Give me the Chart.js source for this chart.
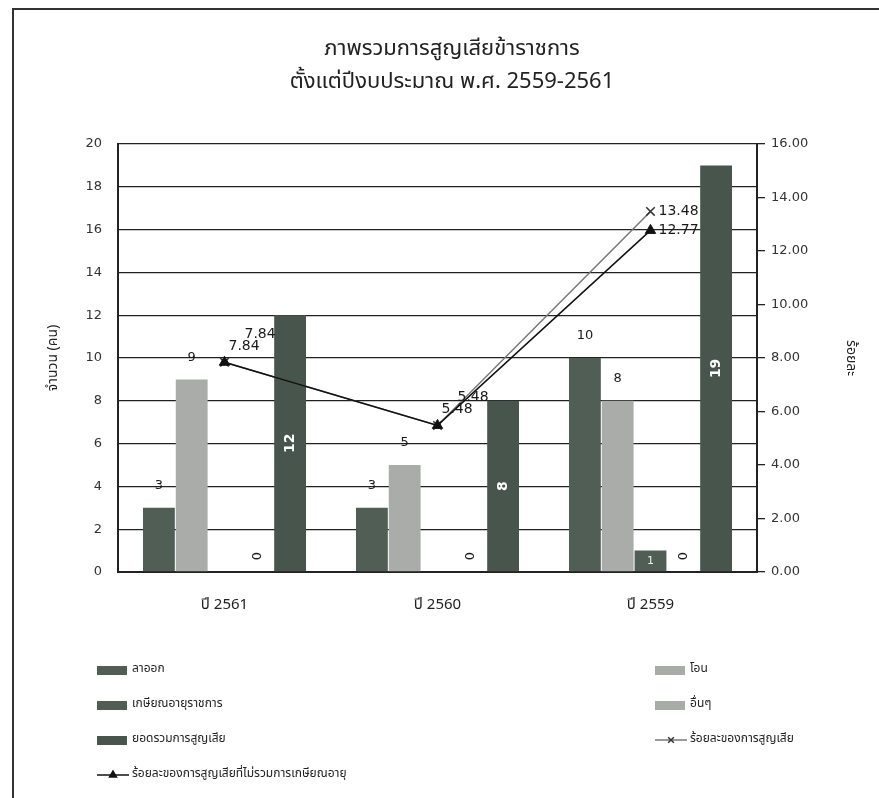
<!DOCTYPE html>
<html lang="th">
<head>
  <meta charset="UTF-8" />
  <title>ภาพรวมการสูญเสียข้าราชการ</title>
  <script src="https://cdn.jsdelivr.net/npm/chart.js"></script>
  <style>
    html, body { margin: 0; padding: 0; background: #fff; }
    #wrap { position: relative; width: 879px; height: 798px; overflow: hidden; }
    #frame {
      position: absolute; left: 12px; top: 8px; width: 900px; height: 900px;
      border-left: 2px solid #333; border-top: 2px solid #333;
    }
    #lossChart { position: absolute; left: 0; top: 0; }
  </style>
</head>
<body>
  <div id="wrap">
    <div id="frame"></div>
    <canvas id="lossChart" width="879" height="798"></canvas>
  </div>

  <script>
    // ข้อมูลการสูญเสียข้าราชการ
    const years = ["ปี 2561", "ปี 2560", "ปี 2559"];
    const resigned = [3, 3, 10];
    const transferred = [9, 5, 8];
    const retired = [0, 0, 1];
    const others = [0, 0, 0];
    const totalLoss = [12, 8, 19];
    const lossPct = [7.84, 5.48, 13.48];
    const lossPctNoRetire = [7.84, 5.48, 12.77];

    const countAxis = { min: 0, max: 20, step: 2 };
    const pctAxis = { min: 0, max: 16, step: 2 };

    const THAI = '"Noto Sans Thai", "Noto Sans", "DejaVu Sans", sans-serif';
    const NUM = '"DejaVu Sans", sans-serif';
    const DARK = "#515e56";
    const DARKER = "#48554d";
    const LIGHT = "#a9aca9";

    // ป้ายค่าบนแท่งและเส้น
    const valueLabels = {
      id: "valueLabels",
      afterDatasetsDraw(chart) {
        const ctx = chart.ctx;
        chart.data.datasets.forEach((ds, i) => {
          const meta = chart.getDatasetMeta(i);
          const last = ds.data.length - 1;
          meta.data.forEach((el, j) => {
            const v = ds.data[j];
            ctx.save();
            ctx.fillStyle = "#1a1a1a";
            ctx.textAlign = "center";
            ctx.textBaseline = "middle";
            if (ds.labelMode === "top") {
              ctx.font = "13px " + NUM;
              ctx.fillText(String(v), el.x, el.y - 22);
            } else if (ds.labelMode === "inside") {
              if (v > 0) {
                ctx.font = "11px " + NUM;
                ctx.fillStyle = "#eee";
                ctx.fillText(String(v), el.x, (el.y + el.base) / 2);
              }
            } else if (ds.labelMode === "zero") {
              ctx.translate(el.x, el.base - 16);
              ctx.rotate(-Math.PI / 2);
              ctx.font = "13px " + NUM;
              ctx.fillText(String(v), 0, 0);
            } else if (ds.labelMode === "mid") {
              ctx.translate(el.x, (el.y + el.base) / 2);
              ctx.rotate(-Math.PI / 2);
              ctx.font = "bold 14px " + NUM;
              ctx.fillStyle = "#fff";
              ctx.fillText(String(v), 0, 0);
            } else if (ds.labelMode === "line") {
              ctx.font = "14px " + NUM;
              ctx.textAlign = "left";
              const txt = v.toFixed(2);
              if (j === last) {
                ctx.fillText(txt, el.x + 8, el.y);
              } else {
                ctx.fillText(txt, el.x + ds.labelDx, el.y + ds.labelDy);
              }
            }
            ctx.restore();
          });
        });
      }
    };

    // คำอธิบายสัญลักษณ์แบบสองคอลัมน์
    const gridLegend = {
      id: "gridLegend",
      afterDraw(chart) {
        const ctx = chart.ctx;
        const cols = [97, 655];
        const rowTop = 670, rowGap = 35;
        chart.data.datasets.forEach((ds, i) => {
          const x = cols[i % 2];
          const y = rowTop + Math.floor(i / 2) * rowGap;
          ctx.save();
          if (ds.type === "line") {
            ctx.strokeStyle = ds.borderColor;
            ctx.lineWidth = 1.5;
            ctx.beginPath();
            ctx.moveTo(x, y);
            ctx.lineTo(x + 32, y);
            ctx.stroke();
            ctx.fillStyle = ds.pointBackgroundColor;
            ctx.strokeStyle = ds.pointBorderColor;
            Chart.helpers.drawPoint(ctx, {
              pointStyle: ds.pointStyle, radius: 4, borderWidth: 1.5, rotation: 0
            }, x + 16, y);
          } else {
            ctx.fillStyle = ds.backgroundColor;
            ctx.fillRect(x, y - 4, 30, 9);
          }
          ctx.fillStyle = "#222";
          ctx.font = "12px " + THAI;
          ctx.textBaseline = "middle";
          ctx.fillText(ds.label, x + 35, y);
          ctx.restore();
        });
      }
    };

    const ctx = document.getElementById("lossChart").getContext("2d");
    new Chart(ctx, {
      data: {
        labels: years,
        datasets: [
          { type: "bar", label: "ลาออก", data: resigned, backgroundColor: DARK, labelMode: "top", yAxisID: "y", order: 2 },
          { type: "bar", label: "โอน", data: transferred, backgroundColor: LIGHT, labelMode: "top", yAxisID: "y", order: 2 },
          { type: "bar", label: "เกษียณอายุราชการ", data: retired, backgroundColor: DARK, labelMode: "inside", yAxisID: "y", order: 2 },
          { type: "bar", label: "อื่นๆ", data: others, backgroundColor: LIGHT, labelMode: "zero", yAxisID: "y", order: 2 },
          { type: "bar", label: "ยอดรวมการสูญเสีย", data: totalLoss, backgroundColor: DARKER, labelMode: "mid", yAxisID: "y", order: 2 },
          {
            type: "line", label: "ร้อยละของการสูญเสีย", data: lossPct, yAxisID: "y1", order: 1,
            borderColor: "#777", borderWidth: 1.5, pointStyle: "crossRot", pointRadius: 6,
            pointBorderColor: "#333", pointBackgroundColor: "#333", pointBorderWidth: 1.5,
            labelMode: "line", labelDx: 20, labelDy: -28
          },
          {
            type: "line", label: "ร้อยละของการสูญเสียที่ไม่รวมการเกษียณอายุ", data: lossPctNoRetire, yAxisID: "y1", order: 0,
            borderColor: "#111", borderWidth: 1.5, pointStyle: "triangle", pointRadius: 6,
            pointBorderColor: "#111", pointBackgroundColor: "#111", pointBorderWidth: 1,
            labelMode: "line", labelDx: 4, labelDy: -16
          }
        ]
      },
      options: {
        responsive: false,
        animation: false,
        layout: { padding: { top: 34, left: 42, right: 17, bottom: 176 } },
        datasets: {
          bar: { categoryPercentage: 0.77, barPercentage: 0.97 }
        },
        plugins: {
          legend: { display: false },
          tooltip: { enabled: false },
          title: {
            display: true,
            text: ["ภาพรวมการสูญเสียข้าราชการ", "ตั้งแต่ปีงบประมาณ พ.ศ. 2559-2561"],
            color: "#222",
            font: { family: THAI, size: 22, weight: "normal", lineHeight: 1.5 },
            padding: { top: 0, bottom: 44 }
          }
        },
        scales: {
          x: {
            grid: { display: false },
            border: { display: true, color: "#222", width: 2 },
            ticks: { color: "#222", padding: 17, font: { family: THAI, size: 15 } },
            afterFit(scale) { scale.height = 50; }
          },
          y: {
            position: "left",
            min: countAxis.min, max: countAxis.max,
            ticks: { stepSize: countAxis.step, color: "#333", padding: 16, font: { family: NUM, size: 13 } },
            grid: { color: "#222", lineWidth: 1.3, drawTicks: false },
            border: { display: true, color: "#222", width: 2 },
            title: { display: true, text: "จำนวน (คน)", color: "#222", font: { family: THAI, size: 14 } },
            afterFit(scale) { scale.width = 76; }
          },
          y1: {
            position: "right",
            min: pctAxis.min, max: pctAxis.max,
            ticks: {
              stepSize: pctAxis.step, color: "#333", padding: 6, font: { family: NUM, size: 13 },
              callback: v => Number(v).toFixed(2)
            },
            grid: { drawOnChartArea: false, drawTicks: true, tickLength: 8, color: "#222", lineWidth: 1.3 },
            border: { display: true, color: "#222", width: 2 },
            title: { display: true, text: "ร้อยละ", color: "#222", font: { family: THAI, size: 14 } },
            afterFit(scale) { scale.width = 105; }
          }
        }
      },
      plugins: [valueLabels, gridLegend]
    });
  </script>
</body>
</html>
